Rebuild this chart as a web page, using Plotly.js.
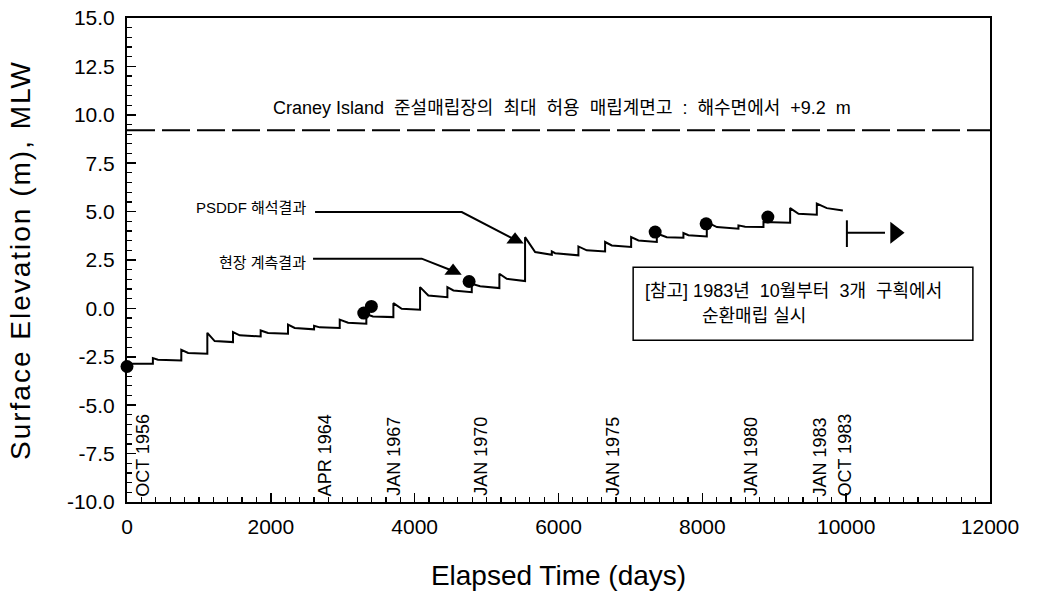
<!DOCTYPE html>
<html>
<head>
<meta charset="utf-8">
<script src="https://cdn.plot.ly/plotly-3.0.1.min.js"></script>
<style>
  html, body { margin: 0; padding: 0; background: #fff; }
  #chart { width: 1037px; height: 592px; }
  #chart .ytitle { letter-spacing: 2px; }
</style>
</head>
<body>
<div id="chart"></div>
<script>
// Surface elevation of the Craney Island disposal area (PSDDF model)
const modelDays = [
  0, 360, 360, 430, 755, 755, 850, 1117, 1117, 1219, 1474, 1474, 1567, 1859,
  1859, 1961, 2239, 2239, 2332, 2601, 2601, 2680, 2958, 2958, 3074, 3328,
  3328, 3420, 3704, 3704, 3820, 4075, 4075, 4190, 4455, 4455, 4539, 4794,
  4794, 4910, 5178, 5178, 5281, 5535, 5535, 5675, 5907, 5907, 5953, 6277,
  6277, 6393, 6648, 6648, 6741, 7010, 7010, 7112, 7367, 7367, 7506, 7737,
  7737, 7807, 8062, 8062, 8202, 8502, 8502, 8595, 8850, 8850, 9221, 9221,
  9337, 9592, 9592, 9731, 9954
];
const modelElev = [
  -2.86, -2.86, -2.57, -2.65, -2.69, -2.14, -2.30, -2.34, -1.26, -1.69, -1.74, -1.22, -1.39, -1.45,
  -1.14, -1.27, -1.31, -0.84, -1.01, -1.08, -0.90, -0.98, -1.01, -0.58, -0.74, -0.79,
  -0.30, -0.42, -0.45, 0.27, -0.02, -0.07, 1.10, 0.67, 0.58, 1.10, 0.93, 0.84,
  1.27, 1.14, 1.05, 1.79, 1.53, 1.41, 3.68, 2.91, 2.77, 2.94, 2.85, 2.74,
  3.20, 3.00, 2.94, 3.43, 3.25, 3.17, 3.68, 3.51, 3.43, 3.87, 3.68, 3.65,
  3.89, 3.78, 3.72, 4.46, 4.20, 4.12, 4.29, 4.22, 4.20, 4.46, 4.42, 5.18,
  4.89, 4.84, 5.41, 5.18, 5.06
];

// Field survey results
const fieldDays = [0, 3292, 3398, 4757, 7344, 8053, 8911];
const fieldElev = [-3.0, -0.24, 0.10, 1.39, 3.94, 4.37, 4.72];

// Maximum allowable fill elevation
const designLimit = 9.2;
const designSpan = [0, 12000];

// Leader lines for the two labels (last point carries the arrowhead)
const psddfLeaderDays = [2615, 4655, 5396];
const psddfLeaderElev = [4.98, 4.98, 3.55];
const fieldLeaderDays = [2587, 4098, 4534];
const fieldLeaderElev = [2.57, 2.57, 1.93];

// Rotation filling from Oct 1983 onward
const rotationStartDay = 10010;
const rotationBarElev = [3.17, 4.55];
const rotationArrowDays = [10010, 10540, 10680];
const rotationArrowElev = 3.91;

// Note box extent
const noteBoxDays = [7038, 11762];
const noteBoxElev = [-1.65, 2.13];

// Calendar markers along the bottom of the plot
const dateLabels = ['OCT 1956', 'APR 1964', 'JAN 1967', 'JAN 1970', 'JAN 1975', 'JAN 1980', 'JAN 1983', 'OCT 1983'];
const dateLabelDays = [222, 2754, 3713, 4923, 6759, 8679, 9631, 9980];

// Axis ticks
const xTickVals = [0, 2000, 4000, 6000, 8000, 10000, 12000];
const xTickText = ['0', '2000', '4000', '6000', '8000', '10000', '12000'];
const yTickVals = [-10, -7.5, -5, -2.5, 0, 2.5, 5, 7.5, 10, 12.5, 15];
const yTickText = ['-10.0', '-7.5', '-5.0', '-2.5', '0.0', '2.5', '5.0', '7.5', '10.0', '12.5', '15.0'];

const latin = 'Arial, "Liberation Sans", "Noto Sans CJK KR", sans-serif';
const kor = 'Arial, "Liberation Sans", "Noto Sans CJK KR", sans-serif';

const traces = [
  {
    x: designSpan, y: [designLimit, designLimit], mode: 'lines',
    line: {color: '#000', width: 2, dash: '28px,7px'}, hoverinfo: 'skip'
  },
  {
    x: modelDays, y: modelElev, mode: 'lines',
    line: {color: '#000', width: 2}, hoverinfo: 'skip'
  },
  {
    x: fieldDays, y: fieldElev, mode: 'markers', cliponaxis: false,
    marker: {symbol: 'circle', size: 13, color: '#000'}, hoverinfo: 'skip'
  },
  {
    x: psddfLeaderDays, y: psddfLeaderElev, mode: 'lines',
    line: {color: '#000', width: 2}, hoverinfo: 'skip'
  },
  {
    x: fieldLeaderDays, y: fieldLeaderElev, mode: 'lines',
    line: {color: '#000', width: 2}, hoverinfo: 'skip'
  },
  {
    x: [psddfLeaderDays[2], fieldLeaderDays[2]],
    y: [psddfLeaderElev[2], fieldLeaderElev[2]], mode: 'markers',
    marker: {symbol: 'triangle-up', size: 15, color: '#000'}, hoverinfo: 'skip'
  },
  {
    x: [rotationStartDay, rotationStartDay], y: rotationBarElev, mode: 'lines',
    line: {color: '#000', width: 2}, hoverinfo: 'skip'
  },
  {
    x: [rotationArrowDays[0], rotationArrowDays[1]],
    y: [rotationArrowElev, rotationArrowElev], mode: 'lines',
    line: {color: '#000', width: 2}, hoverinfo: 'skip'
  },
  {
    x: [rotationArrowDays[2]], y: [rotationArrowElev], mode: 'markers',
    marker: {symbol: 'triangle-right', size: 19, color: '#000'}, hoverinfo: 'skip'
  }
];

const annotations = [
  {
    x: 6050, y: 10.36, xref: 'x', yref: 'y', showarrow: false,
    text: 'Craney Island  준설매립장의  최대  허용  매립계면고  :  해수면에서  +9.2  m',
    font: {family: kor, size: 18, color: '#000'}
  },
  {
    x: 2517, y: 5.19, xref: 'x', yref: 'y', xanchor: 'right', showarrow: false,
    text: 'PSDDF 해석결과', font: {family: kor, size: 15, color: '#000'}
  },
  {
    x: 2517, y: 2.35, xref: 'x', yref: 'y', xanchor: 'right', showarrow: false,
    text: '현장 계측결과', font: {family: kor, size: 15, color: '#000'}
  },
  {
    x: 7177, y: 0.88, xref: 'x', yref: 'y', xanchor: 'left', showarrow: false,
    text: '[참고] 1983년  10월부터  3개  구획에서', font: {family: kor, size: 18, color: '#000'}
  },
  {
    x: 7969, y: -0.40, xref: 'x', yref: 'y', xanchor: 'left', showarrow: false,
    text: '순환매립 실시', font: {family: kor, size: 18, color: '#000'}
  }
];

dateLabels.forEach((label, i) => {
  annotations.push({
    x: dateLabelDays[i], y: -9.81, xref: 'x', yref: 'y',
    xanchor: 'center', yanchor: 'bottom', textangle: -90, showarrow: false,
    text: label, font: {family: latin, size: 18, color: '#000'}
  });
});

const shapes = [
  {
    type: 'rect', xref: 'x', yref: 'y',
    x0: noteBoxDays[0], x1: noteBoxDays[1], y0: noteBoxElev[0], y1: noteBoxElev[1],
    line: {color: '#000', width: 1.5}, fillcolor: 'rgba(0,0,0,0)'
  }
];

const tickStyle = {
  ticks: 'inside', ticklen: 9, tickwidth: 1.5, tickcolor: '#000',
  showgrid: false, zeroline: false
};
const xMinor = {dtick: 200, tick0: 0, ticks: 'inside', ticklen: 5, tickwidth: 1.2, tickcolor: '#000', showgrid: false};
const yMinor = {dtick: 0.5, tick0: 0, ticks: 'inside', ticklen: 5, tickwidth: 1.2, tickcolor: '#000', showgrid: false};

const layout = {
  width: 1037, height: 592,
  margin: {l: 127, r: 47, t: 18, b: 90},
  paper_bgcolor: '#fff', plot_bgcolor: '#fff',
  showlegend: false,
  xaxis: Object.assign({}, tickStyle, {
    range: [0, 12000], tickmode: 'array', tickvals: xTickVals, ticktext: xTickText,
    showline: true, linecolor: '#000', linewidth: 2, mirror: true,
    minor: xMinor, ticklabelstandoff: 5,
    tickfont: {family: latin, size: 21, color: '#000'},
    title: {text: 'Elapsed Time (days)', font: {family: latin, size: 28, color: '#000'}, standoff: 28}
  }),
  yaxis: Object.assign({}, tickStyle, {
    range: [-10, 15], tickmode: 'array', tickvals: yTickVals, ticktext: yTickText,
    showline: true, linecolor: '#000', linewidth: 2, mirror: true,
    minor: yMinor, ticklabelstandoff: 6,
    tickfont: {family: latin, size: 21, color: '#000'},
    title: {text: 'Surface Elevation (m), MLW', font: {family: latin, size: 28, color: '#000'}, standoff: 28}
  }),
  // Matching tick marks along the top and right frame edges
  xaxis2: Object.assign({}, tickStyle, {
    overlaying: 'x', side: 'top', anchor: 'y', range: [0, 12000],
    tickmode: 'array', tickvals: xTickVals, showticklabels: false, minor: xMinor
  }),
  yaxis2: Object.assign({}, tickStyle, {
    overlaying: 'y', side: 'right', anchor: 'x', range: [-10, 15],
    tickmode: 'array', tickvals: yTickVals, showticklabels: false, minor: yMinor
  }),
  annotations: annotations,
  shapes: shapes
};

Plotly.newPlot('chart', traces, layout, {displayModeBar: false, staticPlot: true});
</script>
</body>
</html>
